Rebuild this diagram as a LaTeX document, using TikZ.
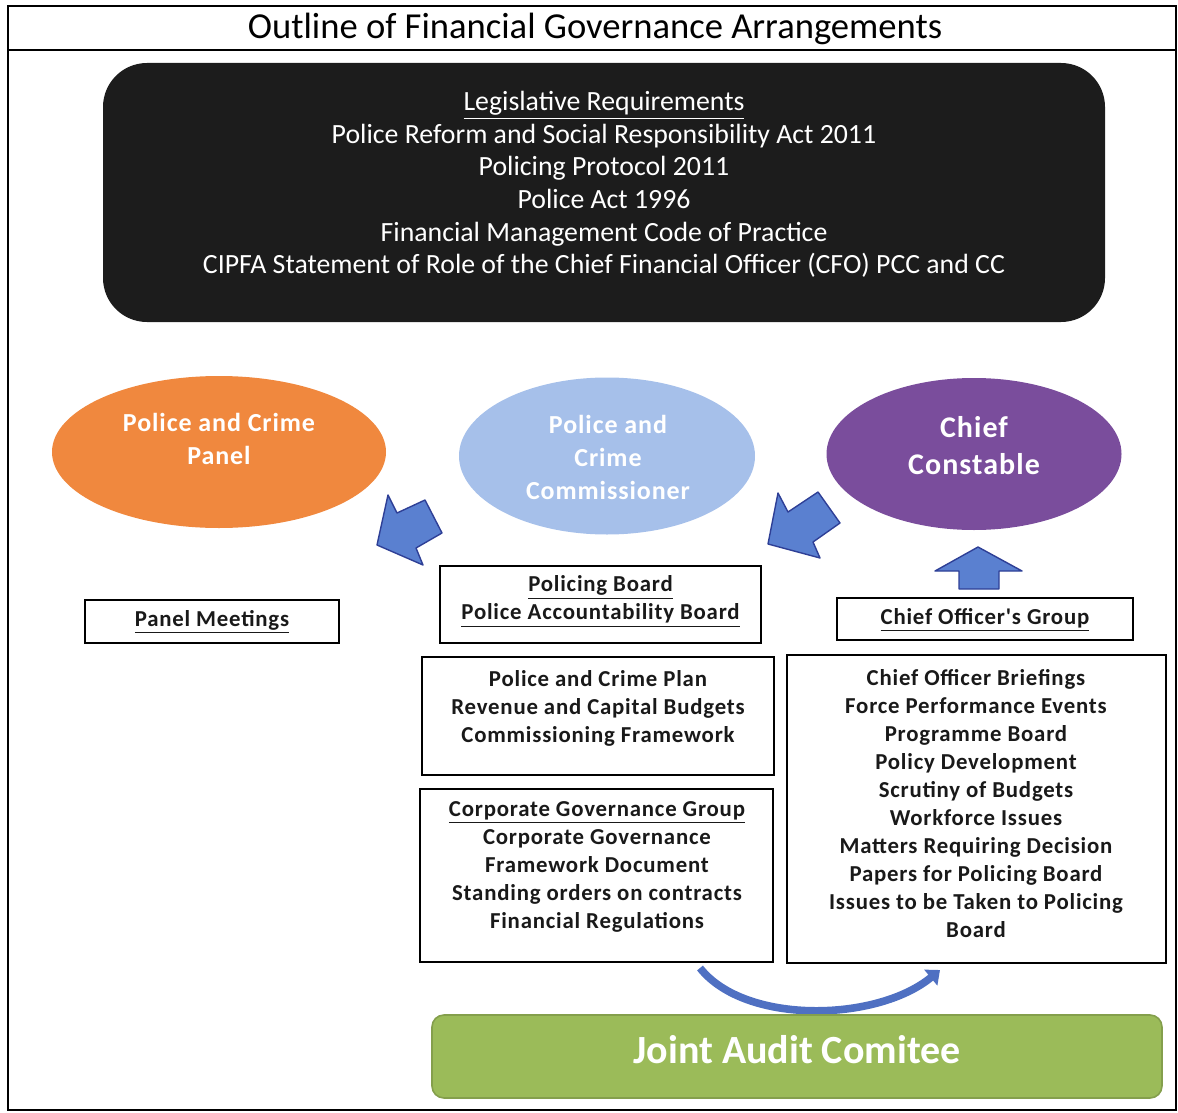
\documentclass[tikz,border=0pt]{standalone}
\usepackage{fontspec}
\setmainfont{Carlito}
\newfontfamily\spacedfont[LetterSpace=3.5]{Carlito}
\usetikzlibrary{shapes.geometric,arrows.meta}
\definecolor{panelorange}{HTML}{F0883E}
\definecolor{pccblue}{HTML}{A6C0EA}
\definecolor{ccpurple}{HTML}{7A4D9C}
\definecolor{arrowblue}{HTML}{5A80D0}
\definecolor{arrowedge}{HTML}{2E3F96}
\definecolor{auditgreen}{HTML}{9BBB59}
\definecolor{legalblack}{HTML}{1C1C1C}
\begin{document}
\begin{tikzpicture}[x=0.5pt,y=-0.5pt]
      \tikzstyle{box}=[draw, line width=0.8pt, inner sep=0pt]
      \tikzstyle{boxtext}=[align=center, inner sep=0pt, text=black!90,
        font=\spacedfont\bfseries\fontsize{11.4}{14}\selectfont]
      \tikzstyle{bodytext}=[align=center, inner sep=0pt, text=white,
        font=\spacedfont\bfseries\fontsize{13}{16.5}\selectfont]
      \tikzstyle{bubble}=[ellipse, inner sep=0pt]
      \tikzstyle{blockarrow}=[fill=arrowblue, draw=arrowedge, line width=0.7pt, line join=round]

      \useasboundingbox (0,0) rectangle (1178,1113);
      \draw[line width=1pt] (8,6) rectangle (1176,1110);
      \draw[line width=1pt] (8,50) -- (1176,50);
      \path (595,29) node[inner sep=0pt, font=\fontsize{18.3}{20}\selectfont] (title)
        {Outline of Financial Governance Arrangements};

      \path (604,192.5) node[box, draw=none, fill=legalblack, rounded corners=22pt,
        minimum width=501pt, minimum height=129.5pt] (legal) {};
      \path (604,184.5) node[inner sep=0pt, align=center, text=white,
        font=\fontsize{13.9}{16.3}\selectfont] (legaltext)
        {\underline{Legislative Requirements}\\
         Police Reform and Social Responsibility Act 2011\\
         Policing Protocol 2011\\
         Police Act 1996\\
         Financial Management Code of Practice\\
         CIPFA Statement of Role of the Chief Financial Officer (CFO) PCC and CC};

      \path (219,452) node[bubble, fill=panelorange, minimum width=167pt, minimum height=76pt] (panel) {};
      \path (607,456) node[bubble, fill=pccblue, minimum width=148pt, minimum height=78.5pt] (pcc) {};
      \path (974,454) node[bubble, fill=ccpurple, minimum width=147.5pt, minimum height=76pt] (cc) {};
      \path (219,439) node[bodytext] (paneltext) {Police and Crime\\Panel};
      \path (608,457) node[bodytext] (pcctext) {Police and\\Crime\\Commissioner};
      \path (974,446) node[bodytext, font=\spacedfont\bfseries\fontsize{15}{18.5}\selectfont] (cctext) {Chief\\Constable};

      \filldraw[blockarrow] (377,545) -- (388,495) -- (397,513) -- (425,500)
        -- (442,533) -- (416,548) -- (423,565) -- cycle;
      \filldraw[blockarrow] (768,544) -- (778,493) -- (788,512) -- (818,492)
        -- (840,523) -- (813,542) -- (820,558) -- cycle;
      \filldraw[blockarrow] (978,547) -- (1022,571) -- (999,571) -- (999,589)
        -- (959,589) -- (959,571) -- (935,571) -- cycle;

      \path (212,621.5) node[box, minimum width=127pt, minimum height=21.5pt] (meetings) {};
      \path (212,622) node[boxtext] (meetingstext) {\underline{Panel Meetings}};

      \path (600.5,604.5) node[box, minimum width=160.5pt, minimum height=38.5pt] (board) {};
      \path (600.5,601.5) node[boxtext] (boardtext)
        {\underline{Policing Board}\\\underline{Police Accountability Board}};

      \path (985,619) node[box, minimum width=148pt, minimum height=21pt] (cog) {};
      \path (985,620) node[boxtext] (cogtext) {\underline{Chief Officer's Group}};

      \path (598,716) node[box, minimum width=176pt, minimum height=59pt] (plan) {};
      \path (598,708) node[boxtext] (plantext)
        {Police and Crime Plan\\Revenue and Capital Budgets\\Commissioning Framework};

      \path (596.5,875.5) node[box, minimum width=176.5pt, minimum height=86.5pt] (corp) {};
      \path (597,866.5) node[boxtext] (corptext)
        {\underline{Corporate Governance Group}\\
         Corporate Governance\\
         Framework Document\\
         Standing orders on contracts\\
         Financial Regulations};

      \path (976.5,809) node[box, minimum width=189.5pt, minimum height=154pt] (brief) {};
      \path (976,803.5) node[boxtext] (brieftext)
        {Chief Officer Briefings\\
         Force Performance Events\\
         Programme Board\\
         Policy Development\\
         Scrutiny of Budgets\\
         Workforce Issues\\
         Matters Requiring Decision\\
         Papers for Policing Board\\
         Issues to be Taken to Policing\\
         Board};

      \coordinate (loopstart) at (700,968);
      \coordinate (loopend) at (940,970);
      \draw[arrowblue!75!arrowedge, line width=3.8pt,
        -{Triangle[length=6pt, width=10pt]}]
        (loopstart) .. controls (745,1025) and (877,1022) .. (loopend);

      \path (797,1056.5) node[box, draw=auditgreen!85!black, fill=auditgreen, rounded corners=6pt,
        minimum width=365pt, minimum height=41.5pt] (audit) {};
      \path (797,1050) node[inner sep=0pt, text=white,
        font=\bfseries\fontsize{20}{22}\selectfont] (audittext) {Joint Audit Comitee};
    \end{tikzpicture}
\end{document}
